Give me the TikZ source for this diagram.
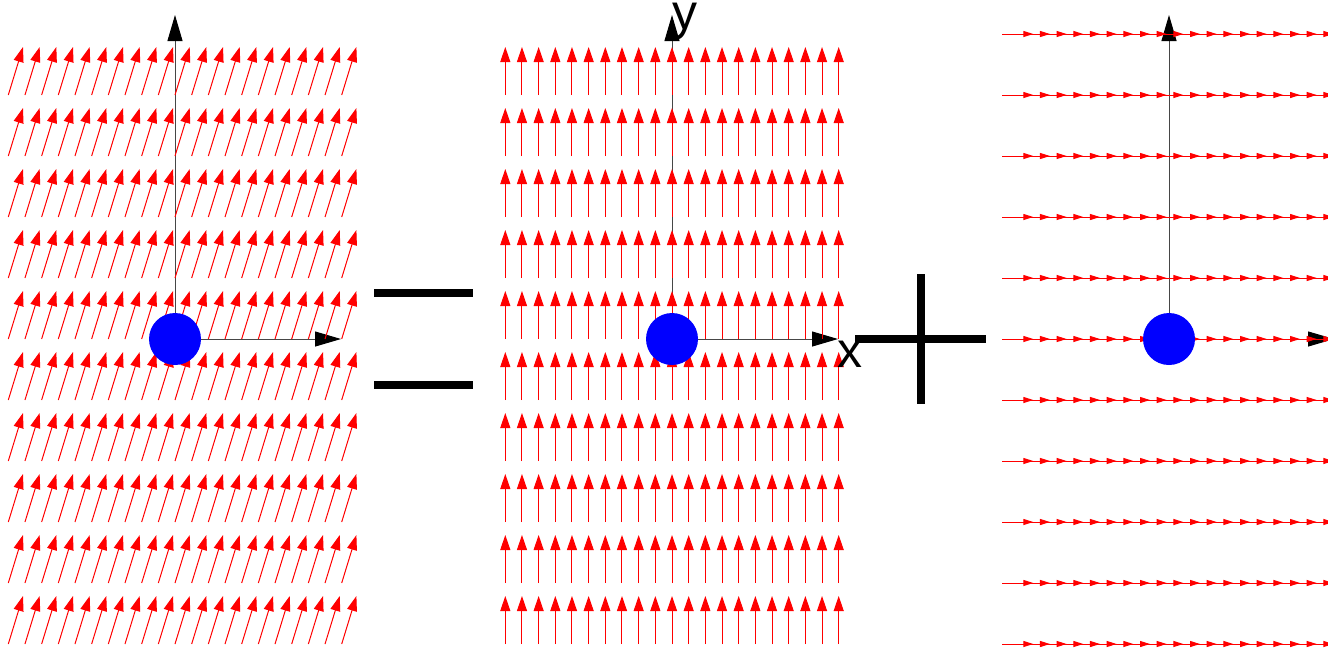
\documentclass[tikz,border=0pt]{standalone}
\usepackage{xcolor}
\usepackage{fontspec}
\usepackage{tikz}
\usetikzlibrary{arrows.meta, positioning}
\newfontfamily\labelfont{Liberation Sans}
\definecolor{fieldred}{RGB}{255,0,0}
\definecolor{chargeblue}{RGB}{0,0,255}
\definecolor{axisdark}{RGB}{70,70,70}
\tikzset{
  tiltarrow/.style={-{Triangle[length=15pt,width=10pt]}, line width=1pt, color=fieldred},
  uparrow/.style={-{Triangle[length=15pt,width=10pt]}, line width=1pt, color=fieldred},
  sidearrow/.style={-{Triangle[length=10pt,width=6pt]}, line width=1pt, color=fieldred},
  axisarrow/.style={-{Triangle[length=26pt,width=15pt,black]}, line width=1pt, color=axisdark},
  charge/.style={circle, fill=chargeblue, minimum size=52pt, inner sep=0pt},
  opsign/.style={line width=8pt, color=black},
  axislabel/.style={font=\labelfont\fontsize{50}{52}\selectfont, inner sep=0pt}
}

\begin{document}
\begin{tikzpicture}[x=1pt, y=-1pt]
  \useasboundingbox (0,0) rectangle (1328,649);
  \clip (0,0) rectangle (1328,649);

  % Origins of the three panels
  \coordinate (oleft) at (175,339);
  \coordinate (omid) at (672,339);
  \coordinate (oright) at (1169,339);

  % Axis tips
  \coordinate (lefty) at (175,15);
  \coordinate (leftx) at (341,339);
  \coordinate (midy) at (672,15);
  \coordinate (midx) at (838,339);
  \coordinate (righty) at (1169,15);
  \coordinate (rightx) at (1334,339);

  % Axes
  \draw[axisarrow] (oleft) -- (lefty);
  \draw[axisarrow] (oleft) -- (leftx);
  \draw[axisarrow] (omid) -- (midy);
  \draw[axisarrow] (omid) -- (midx);
  \draw[axisarrow] (oright) -- (righty);
  \draw[axisarrow] (oright) -- (rightx);

  % Total field (left)
  \foreach \j in {-10,...,10}
    \foreach \k in {1,...,10}
      \draw[tiltarrow] ({175+16.67*\j},{34+61*\k}) -- ++(14.7,-48);

  % Vertical part (middle)
  \foreach \j in {-10,...,10}
    \foreach \k in {1,...,10}
      \draw[uparrow] ({672+16.67*\j},{34+61*\k}) -- ++(0,-48);

  % Horizontal part (right)
  \foreach \j in {-10,...,10}
    \foreach \k in {0,...,10}
      \draw[sidearrow] ({1169+16.67*\j},{34+61*\k}) -- ++(31,0);

  % Charges
  \node[charge] (qleft) at (oleft) {};
  \node[charge] (qmid) at (omid) {};
  \node[charge] (qright) at (oright) {};

  % Axis labels
  \node[axislabel, anchor=base west] (xlabel) at (837,367) {x};
  \node[axislabel, anchor=base west] (ylabel) at (672,29) {y};

  % Equals and plus signs
  \draw[opsign] (374,293) -- (473,293);
  \draw[opsign] (374,385) -- (473,385);
  \draw[opsign] (855,339) -- (986,339);
  \draw[opsign] (920.5,274) -- (920.5,404);
\end{tikzpicture}
\end{document}
